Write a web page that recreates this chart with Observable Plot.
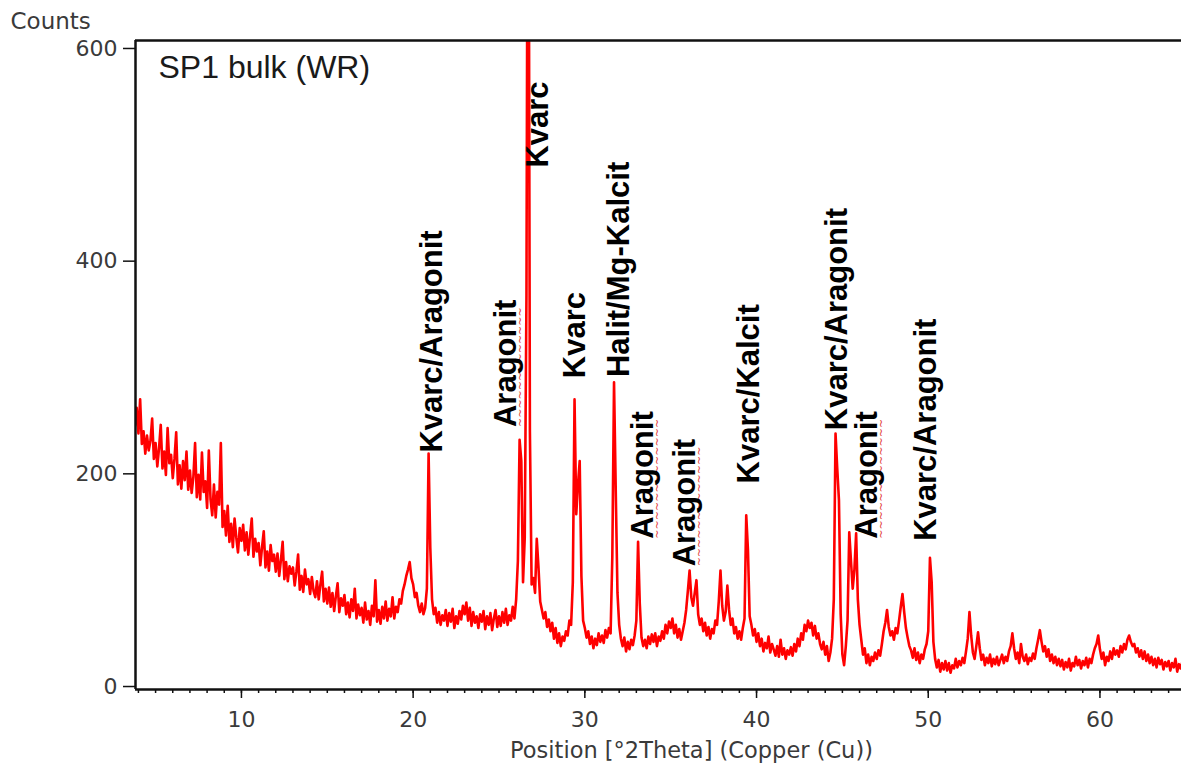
<!DOCTYPE html>
<html><head><meta charset="utf-8">
<script src="https://cdn.jsdelivr.net/npm/d3@7"></script>
<script src="https://cdn.jsdelivr.net/npm/@observablehq/plot@0.6"></script>
<style>body{margin:0;background:#fff}</style>
</head><body><div id="chart"></div>
<script>
const angleStart = 3.8, angleStep = 0.1;
const counts = [
  245,262,
  238,270,228,240,219,236,222,231,252,214, // 4
  229,207,224,246,205,221,199,243,210,218, // 5
  196,214,239,190,208,186,212,194,221,185, // 6
  203,182,197,229,178,199,176,220,183,193, // 7
  168,222,176,161,190,159,183,171,229,150, // 8
  165,142,170,136,153,131,158,140,126,149, // 9
  137,152,128,145,124,141,158,122,139,127, // 10
  135,114,131,146,112,127,109,133,118,124, // 11
  108,125,104,119,136,101,117,99,113,106,  // 12
  112,95,108,124,91,104,89,110,96,101,     // 13
  87,103,90,84,99,82,96,108,80,92,         // 14
  78,93,75,88,71,85,97,70,83,76,           // 15
  86,68,79,65,82,71,92,64,77,67,           // 16
  74,60,79,63,71,58,76,66,100,61,          // 17
  72,59,75,64,80,62,73,66,84,64,           // 18
  75,70,82,78,90,96,104,110,117,102,       // 19
  96,84,88,76,70,78,68,74,92,219,          // 20
  130,82,68,74,60,70,58,67,62,72,          // 21
  57,69,61,73,55,66,59,71,63,76,           // 22
  68,79,62,74,57,70,60,66,55,68,           // 23
  61,71,54,66,58,69,53,64,72,56,           // 24
  66,57,70,60,73,58,67,62,75,64,           // 25
  82,118,232,212,98,140,368,1000,240,96,   // 26
  102,88,139,112,80,72,64,70,56,63,        // 27
  52,60,45,55,41,50,38,47,43,52,           // 28
  48,62,58,98,270,162,190,212,104,62,      // 29
  55,46,52,40,47,36,45,39,50,42,           // 30
  48,41,53,46,55,50,122,286,184,88,        // 31
  58,45,38,46,33,42,35,44,39,48,           // 32
  62,136,78,46,38,44,36,47,40,49,          // 33
  42,50,38,47,43,52,45,58,50,61,           // 34
  55,64,50,58,46,54,44,52,60,72,           // 35
  90,109,84,76,88,100,68,58,64,52,         // 36
  60,48,56,45,54,50,62,58,80,109,          // 37
  76,62,70,95,72,58,64,50,56,45,           // 38
  52,44,55,64,161,128,66,58,48,54,         // 39
  42,50,38,45,33,41,36,47,32,40,           // 40
  35,29,38,28,44,30,36,26,34,30,           // 41
  37,29,40,33,45,38,50,44,58,52,           // 42
  62,55,60,48,57,45,50,40,35,42,           // 43
  30,38,24,32,45,82,238,205,175,68,        // 44
  30,20,38,62,145,118,92,110,144,82,       // 45
  58,44,30,36,22,30,20,28,24,32,           // 46
  26,34,29,40,52,60,72,56,48,52,           // 47
  44,55,50,62,75,87,70,55,46,38,           // 48
  34,27,36,25,32,22,30,26,35,40,           // 49
  52,121,98,42,26,18,25,14,22,16,          // 50
  24,15,22,13,20,17,26,18,24,20,           // 51
  27,22,33,45,70,48,32,26,38,51,           // 52
  36,25,30,20,27,22,30,19,26,21,           // 53
  28,20,25,30,22,28,24,33,38,50,           // 54
  36,26,32,22,40,28,24,30,21,27,           // 55
  24,31,26,36,44,53,42,33,38,28,           // 56
  35,24,30,22,28,20,26,19,25,16,           // 57
  23,18,26,15,22,19,28,20,25,17,           // 58
  24,20,27,18,26,22,30,36,40,48,           // 59
  35,26,32,20,28,24,33,26,36,30,           // 60
  34,28,38,32,40,35,44,48,42,38,           // 61
  40,32,36,28,34,26,33,24,30,22,           // 62
  28,20,26,18,27,21,25,16,23,19,           // 63
  24,15,22,18,26,14,21,17,23               // 64
];

// Phase labels: name, peak position (°2Theta) and the count where the label starts
const peakNames  = ["Kvarc/Aragonit","Aragonit","Kvarc","Kvarc","Halit/Mg-Kalcit","Aragonit","Aragonit","Kvarc/Kalcit","Kvarc/Aragonit","Aragonit","Kvarc/Aragonit"];
const peakAngles = [21.12, 25.43, 27.30, 29.45, 32.01, 33.41, 35.86, 39.59, 44.71, 46.46, 49.90];
const peakCounts = [220, 244, 488, 290, 291, 139, 113, 191, 241, 139, 137];
const squiggle = "~~~~~~~~~~~~~";

const xMajorTicks = [10, 20, 30, 40, 50, 60];
const xMinorTicks = d3.range(4, 65, 1);
const yTicks = [0, 200, 400, 600];
const xDomain = [3.83, 64.75];
const yDomain = [-2.8, 607.5];

const sampleName = "SP1 bulk (WR)";
const yTitle = "Counts";
const xTitle = "Position [°2Theta] (Copper (Cu))";

const pattern = counts.map((c, i) => ({angle: +(angleStart + i * angleStep).toFixed(2), count: c}));
const labels = peakNames.map((t, i) => ({text: t, angle: peakAngles[i], count: peakCounts[i]}));
const flagged = labels.filter(d => d.text === "Aragonit");

const frameStyle = {stroke: "#111", strokeWidth: 2.5};

const chart = Plot.plot({
  width: 1181, height: 776,
  marginLeft: 135, marginRight: 0, marginTop: 40, marginBottom: 87,
  style: {fontFamily: "DejaVu Sans", background: "#fff", color: "#111"},
  x: {domain: xDomain},
  y: {domain: yDomain},
  marks: [
    Plot.line(pattern, {x: "angle", y: "count", stroke: "#ff0000", strokeWidth: 2.6, clip: true}),
    Plot.ruleX([xDomain[0]], frameStyle),
    Plot.ruleY([yDomain[0]], frameStyle),
    Plot.ruleY([yDomain[1]], frameStyle),
    Plot.axisX({ticks: xMinorTicks, tickSize: 4, tickFormat: () => "", label: null, strokeWidth: 1.5}),
    Plot.axisX({ticks: xMajorTicks, tickSize: 9, tickPadding: 13, fontSize: 22, label: null, fill: "#3a3a3a", strokeWidth: 1.5}),
    Plot.axisY({ticks: yTicks, tickSize: 12, tickPadding: 6, fontSize: 22, label: null, fill: "#3a3a3a", strokeWidth: 1.5}),
    Plot.text(flagged, {x: "angle", y: "count", text: () => squiggle, rotate: -90, textAnchor: "start", lineAnchor: "middle",
      dx: 14, fontSize: 11, fontFamily: "DejaVu Sans", fill: "#e23a3a"}),
    Plot.text(labels, {x: "angle", y: "count", text: "text", rotate: -90, textAnchor: "start", lineAnchor: "middle",
      fontSize: 31, fontWeight: "bold", fontFamily: "Liberation Sans", fill: "#000"}),
    Plot.text([sampleName], {frameAnchor: "top-left", dx: 23, dy: 15, lineAnchor: "top", textAnchor: "start",
      fontSize: 32, fontFamily: "Liberation Sans", fill: "#1a1a1a"}),
    Plot.text([yTitle], {frameAnchor: "top-left", dx: -125, dy: -28, lineAnchor: "top", textAnchor: "start",
      fontSize: 23, fill: "#3a3a3a"}),
    Plot.text([xTitle], {frameAnchor: "bottom", dx: 33, dy: 53, lineAnchor: "top", textAnchor: "middle",
      fontSize: 22.5, fill: "#3a3a3a"})
  ]
});

document.getElementById("chart").appendChild(chart);
</script>
</body></html>
